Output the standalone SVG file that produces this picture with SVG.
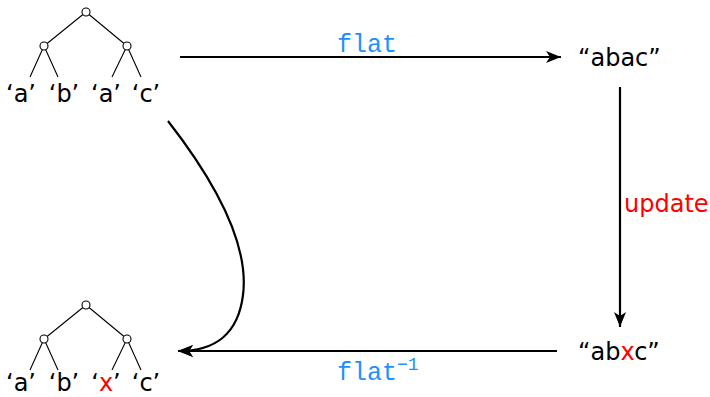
<svg xmlns="http://www.w3.org/2000/svg" width="710" height="397" viewBox="0 0 710 397">
<style>
.t{font-family:"DejaVu Sans","Liberation Sans",sans-serif;font-size:24px;fill:#000}
.lbl{font-family:"DejaVu Sans","Liberation Sans",sans-serif;font-size:24px;fill:#000;text-anchor:middle}
.mono{font-family:"Liberation Mono","DejaVu Sans Mono",monospace;font-size:25px;fill:#1e90ff}
.red{fill:#ff0000}
.edge{stroke:#000;stroke-width:1.1;fill:none}
.node{fill:#fff;stroke:#000;stroke-width:1.1}
.conn{stroke:#000;stroke-width:2.2;fill:none;marker-end:url(#ah)}
</style>
<defs>
<marker id="ah" markerUnits="userSpaceOnUse" markerWidth="18" markerHeight="16" refX="15" refY="8" orient="auto">
<path d="M15,8 L0,2 L4,8 L0,14 Z" fill="#000"/>
</marker>
</defs>
<g id="tree-top">
<path class="edge" d="M86,12 L44,46 M86,12 L127,46 M44,46 L30,77 M44,46 L58,77 M127,46 L112,77 M127,46 L141,77"/>
<circle class="node" cx="86" cy="12" r="4"/>
<circle class="node" cx="44" cy="46" r="4"/>
<circle class="node" cx="127" cy="46" r="4"/>
<text class="lbl" x="21" y="102">‘a’</text>
<text class="lbl" x="64" y="102">‘b’</text>
<text class="lbl" x="106" y="102">‘a’</text>
<text class="lbl" x="146" y="102">‘c’</text>
</g>
<g id="tree-bottom">
<path class="edge" d="M86,305 L44,339 M86,305 L127,339 M44,339 L30,370 M44,339 L58,370 M127,339 L112,370 M127,339 L141,370"/>
<circle class="node" cx="86" cy="305" r="4"/>
<circle class="node" cx="44" cy="339" r="4"/>
<circle class="node" cx="127" cy="339" r="4"/>
<text class="lbl" x="21" y="391">‘a’</text>
<text class="lbl" x="64" y="391">‘b’</text>
<text class="lbl" x="106" y="391">‘<tspan class="red">x</tspan>’</text>
<text class="lbl" x="146" y="391">‘c’</text>
</g>
<g id="str-abac"><text class="t" x="578" y="66">“abac”</text></g>
<g id="str-abxc"><text class="t" x="578" y="360">“ab<tspan class="red">x</tspan>c”</text></g>
<g id="connectors">
<path class="conn" d="M180,57 L561,57"/>
<path class="conn" d="M620,87 L620,327"/>
<path class="conn" d="M557,351 L178,351"/>
<path class="conn" d="M168,121 C210,175 250,240 243,295 C238,335 215,351 178,351"/>
<text class="mono" x="337" y="52">flat</text>
<text class="t red" x="624" y="212">update</text>
<text class="mono" x="337" y="380">flat<tspan font-size="18" dy="-10">−1</tspan></text>
</g>
</svg>
